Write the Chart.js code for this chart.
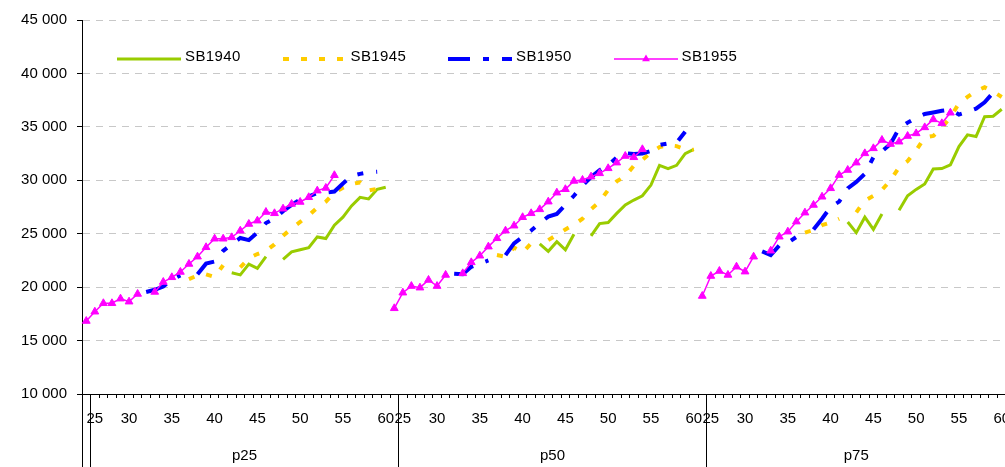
<!DOCTYPE html>
<html>
<head>
<meta charset="utf-8">
<script src="https://cdn.jsdelivr.net/npm/chart.js@4.4.1/dist/chart.umd.min.js"></script>
<style>
  html, body { margin: 0; padding: 0; background: #fff; overflow: hidden; }
  #wrap { position: relative; width: 1012px; height: 467px; }
  #chart { position: absolute; left: 0; top: 0; }
  #legend .item { position: absolute; top: 47px; height: 17px; }
  #legend svg { position: absolute; left: 0; top: 0; }
  #legend span { position: absolute; left: 68px; top: 0; font: 15px "Liberation Sans", Arial, sans-serif; line-height: 17px; white-space: nowrap; color: #000; letter-spacing: 0.4px; }
</style>
</head>
<body>
<div id="wrap">
  <canvas id="chart" width="1012" height="467"></canvas>
  <div id="legend"></div>
</div>
<script>
const n = null;

// categories
const groups = ['p25', 'p50', 'p75'];
const ages = [25, 26, 27, 28, 29, 30, 31, 32, 33, 34, 35, 36, 37, 38, 39, 40, 41, 42,
              43, 44, 45, 46, 47, 48, 49, 50, 51, 52, 53, 54, 55, 56, 57, 58, 59, 60];
const yTicks = [10000, 15000, 20000, 25000, 30000, 35000, 40000, 45000];

// SB1940, ages 25..60
const sb1940_p25 = [n, n, n, n, n, n, n, n, n, n, n, n, n, n, n, n, n,
  21350, 21150, 22150, 21750, 22850, n, 22600, 23300, 23500, 23700, 24700, 24550, 25800, 26550, 27600, 28400, 28250, 29150, 29350];
const sb1940_p50 = [n, n, n, n, n, n, n, n, n, n, n, n, n, n, n, n, n,
  24050, 23350, 24250, 23500, 24950, n, 24800, 25950, 26050, 26900, 27700, 28150, 28550, 29550, 31400, 31100, 31400, 32500, 32900];
const sb1940_p75 = [n, n, n, n, n, n, n, n, n, n, n, n, n, n, n, n, n,
  26100, 25100, 26550, 25400, 26850, n, 27200, 28550, 29150, 29650, 31050, 31100, 31450, 33150, 34250, 34100, 35950, 36000, 36650];

// SB1945
const sb1945_p25 = [n, n, n, n, n, n, n, n, n, n, n, n,
  20750, 21100, 21200, 20950, 22050, n, 21850, 22700, 23100, 23400, 24000, 24800, 25500, 26100, 26700, 27450, 28000, 28850, 29300, 29650, 29800, 29050, 29200, 29300];
const sb1945_p50 = [n, n, n, n, n, n, n, n, n, n, n, n,
  23000, 22850, 23700, 23250, 24100, n, 24400, 24900, 25400, 25850, 26400, 27300, 28000, 29100, 29900, 30400, 31350, 31900, 32600, 33100, 33300, 33200, 32900, 32850];
const sb1945_p75 = [n, n, n, n, n, n, n, n, n, n, n, n,
  25100, 25350, 25800, 26050, 26400, n, 27000, 28100, 28550, 29100, 30000, 31200, 31800, 32800, 34000, 34150, 34900, 35900, 37200, 37800, 38350, 38700, 38300, 37800];

// SB1950
const sb1950_p25 = [n, n, n, n, n, n, n,
  19550, 19750, 20050, 20700, 21100, n, 21200, 22200, 22400, 23400, 24000, 24600, 24400, 25100, 26000, 26400, 27100, 27700, 28200, 28500, 28800, 28850, 28950, 29700, 30400, 30600, 30750, 30800, n];
const sb1950_p50 = [n, n, n, n, n, n, n,
  21250, 21200, 21900, 22200, 22500, n, 23000, 24100, 24700, 25300, 26000, 26600, 26850, 27700, 28550, 29500, 30300, 30950, 31400, 32150, 32550, 32450, 32500, 32750, 33300, 33450, 33520, 34550, n];
const sb1950_p75 = [n, n, n, n, n, n, n,
  23350, 23000, 23900, 24150, 24700, n, 25400, 26400, 27500, 28000, 29250, 29850, 30600, 32150, 32700, 33400, 34850, 35400, 35850, 36200, 36350, 36500, 36600, 36150, 36400, 36700, 37300, 38200, n];

// SB1955
const sb1955_p25 = [16830, 17700, 18490, 18490, 18920, 18640, 19360, n, 19550, 20480, 20920, 21420, 22170, 22850, 23730,
  24530, 24530, 24660, 25280, 25910, 26220, 27030, 26910, 27340, 27780, 27970, 28410, 29030, 29280, 30470, n, n, n, n, n, n];
const sb1955_p50 = [18020, 19480, 20100, 19950, 20670, 20100, 21140, n, 21290, 22320, 22940, 23790, 24570, 25280, 25750,
  26540, 26910, 27280, 28000, 28840, 29160, 29940, 30030, 30340, 30650, 31120, 31650, 32270, 32150, 32900, n, n, n, n, n, n];
const sb1955_p75 = [19170, 21040, 21510, 21140, 21910, 21450, 22850, n, 23410, 24720, 25190, 26130, 26970, 27690, 28460,
  29250, 30490, 30960, 31650, 32520, 32990, 33770, 33390, 33610, 34140, 34390, 34950, 35700, 35330, 36320, n, n, n, n, n, n];

const xLabels = [].concat(ages, ages, ages).map(String);

Chart.defaults.font.family = '"Liberation Sans", Arial, sans-serif';
Chart.defaults.font.size = 15;
Chart.defaults.color = '#000';

// separators and group names under the age labels
const groupAxis = {
  id: 'groupAxis',
  afterDraw(chart) {
    const { ctx, chartArea } = chart;
    const x = chart.scales.x;
    const half = (x.getPixelForTick(1) - x.getPixelForTick(0)) / 2;
    const seps = groups.map((g, i) => Math.floor(x.getPixelForTick(i * ages.length) + half) + 0.5);
    ctx.save();
    ctx.strokeStyle = '#000';
    ctx.lineWidth = 1;
    ctx.beginPath();
    ctx.moveTo(82.5, chartArea.bottom);
    ctx.lineTo(82.5, chart.height);
    seps.forEach(s => {
      ctx.moveTo(s, chartArea.bottom);
      ctx.lineTo(s, chart.height);
    });
    ctx.stroke();
    ctx.fillStyle = '#000';
    ctx.font = '15px "Liberation Sans", Arial, sans-serif';
    ctx.textAlign = 'center';
    ctx.textBaseline = 'middle';
    groups.forEach((g, i) => {
      const end = i + 1 < seps.length ? seps[i + 1] : chartArea.right;
      ctx.fillText(g, (seps[i] + end) / 2, 456);
    });
    ctx.restore();
  }
};

const chart = new Chart(document.getElementById('chart'), {
  type: 'line',
  data: {
    labels: xLabels,
    datasets: [{
      label: 'SB1940',
      data: [].concat(sb1940_p25, sb1940_p50, sb1940_p75),
      borderColor: '#99CC00',
      borderWidth: 3,
      pointRadius: 0,
      order: 3
    }, {
      label: 'SB1945',
      data: [].concat(sb1945_p25, sb1945_p50, sb1945_p75),
      borderColor: '#FFCC00',
      borderWidth: 4,
      borderDash: [6, 12],
      pointRadius: 0,
      order: 2
    }, {
      label: 'SB1950',
      data: [].concat(sb1950_p25, sb1950_p50, sb1950_p75),
      borderColor: '#0000FF',
      borderWidth: 4,
      borderDash: [22, 13, 6, 13],
      pointRadius: 0,
      order: 1
    }, {
      label: 'SB1955',
      data: [].concat(sb1955_p25, sb1955_p50, sb1955_p75),
      borderColor: '#FF00FF',
      backgroundColor: '#FF00FF',
      borderWidth: 1.5,
      pointStyle: 'triangle',
      pointRadius: 4.5,
      pointBorderWidth: 1,
      pointBackgroundColor: '#FF00FF',
      pointBorderColor: '#FF00FF',
      order: 0
    }]
  },
  options: {
    responsive: false,
    animation: false,
    devicePixelRatio: 1,
    layout: { padding: { top: 20, right: 6, bottom: 0, left: 0 } },
    elements: { line: { tension: 0, borderCapStyle: 'butt' } },
    plugins: {
      legend: { display: false },
      tooltip: { enabled: false }
    },
    scales: {
      x: {
        type: 'category',
        offset: true,
        grid: { offset: true, drawOnChartArea: false, drawTicks: true, tickLength: 4, tickColor: '#000' },
        border: { color: '#000' },
        ticks: {
          autoSkip: false,
          maxRotation: 0,
          minRotation: 0,
          padding: 12,
          callback: function (value, index) {
            const age = ages[index % ages.length];
            if (age === 25) return '';
            if (age === 26) return '25';
            return age % 5 === 0 ? String(age) : '';
          }
        },
        afterFit: s => {
          s.height = 73;
          s.paddingLeft = 0;
          s.paddingRight = 0;
        }
      },
      y: {
        min: yTicks[0],
        max: yTicks[yTicks.length - 1],
        ticks: {
          stepSize: 5000,
          padding: 10,
          callback: v => String(v).replace(/\B(?=(\d{3})+(?!\d))/g, ' ')
        },
        grid: { color: '#c8c8c8', tickColor: '#000', tickLength: 5 },
        border: { color: '#000', dash: [7, 6] },
        afterFit: s => { s.width = 82; }
      }
    }
  },
  plugins: [groupAxis]
});

// legend drawn in html over the plot, like the original
const legendEl = document.getElementById('legend');
chart.data.datasets.forEach((ds, i) => {
  const item = document.createElement('div');
  item.className = 'item';
  item.style.left = (117 + i * 165.5) + 'px';
  const dash = (ds.borderDash || []).join(' ');
  let marker = '';
  if (ds.pointStyle === 'triangle') {
    marker = '<polygon points="32,7.5 28.1,14.25 35.9,14.25" fill="' + ds.borderColor + '"/>';
  }
  item.innerHTML = '<svg width="64" height="17"><line x1="0" y1="12" x2="64" y2="12" stroke="' + ds.borderColor +
    '" stroke-width="' + ds.borderWidth + '" stroke-dasharray="' + dash + '"/>' + marker + '</svg><span>' + ds.label + '</span>';
  legendEl.appendChild(item);
});
</script>
</body>
</html>
